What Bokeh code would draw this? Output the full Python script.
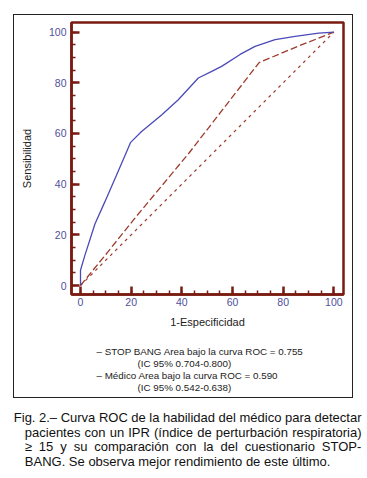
from bokeh.plotting import figure
from bokeh.models import Range1d, FixedTicker, Title
from bokeh.core.properties import value
from bokeh.embed import file_html
from bokeh.resources import INLINE

# ---- data ----
stop_fpr = [0, 0, 1.7, 5.7, 9.6, 14.2, 18.2, 19.8, 24, 32, 38.6, 46.5, 51.8, 55.7, 63, 68.9, 76.8, 84.7, 94, 100]
stop_sens = [0, 6, 11.8, 24.3, 33, 43.5, 52.8, 56.5, 60.7, 67.3, 73.3, 81.9, 84.5, 86.5, 91.2, 94.4, 97, 98.3, 99.6, 100]
medico_fpr = [0, 11, 21, 43, 70.5, 86, 100]
medico_sens = [0, 13.5, 26, 52.5, 88, 94.5, 100]
diag_x = [0, 100]
diag_y = [0, 100]
major_ticks = [0, 20, 40, 60, 80, 100]
minor_ticks = list(range(0, 101, 5))

legend_lines = [
    "– STOP BANG Area bajo la curva ROC = 0.755",
    "(IC 95% 0.704-0.800)",
    "– Médico Area bajo la curva ROC = 0.590",
    "(IC 95% 0.542-0.638)",
]
caption_lines = [
    "Fig. 2.– Curva ROC de la habilidad del médico para detectar",
    "pacientes con un IPR (índice de perturbación respiratoria)",
    "≥ 15 y su comparación con la del cuestionario STOP-",
    "BANG. Se observa mejor rendimiento de este último.",
]

FRAME = "#7a1b12"
BLUE = "#4a4ab8"
BROWN = "#9c3b2b"
TICKLAB = "#50509c"
FONT = "Liberation Sans"

# ---------------- chart (inside the outer box) ----------------
WA, HA = 340, 384
p = figure(width=WA, height=HA, output_backend="svg", toolbar_location=None,
           x_range=Range1d(-3.55, 103.8), y_range=Range1d(-3.55, 103.8),
           min_border_left=57, min_border_right=11,
           min_border_top=7, min_border_bottom=105,
           background_fill_color="white", border_fill_color="white",
           margin=(14, 0, 0, 13),
           styles={"border": "1px solid #222222"})
p.title = None
p.xgrid.visible = False
p.ygrid.visible = False
p.outline_line_color = FRAME
p.outline_line_width = 2.5

for ax in (p.xaxis[0], p.yaxis[0]):
    ax.ticker = FixedTicker(ticks=major_ticks, minor_ticks=minor_ticks)
    ax.axis_line_color = FRAME
    ax.axis_line_width = 2.5
    ax.major_tick_line_color = FRAME
    ax.major_tick_line_width = 2.5
    ax.major_tick_in = 8
    ax.major_tick_out = 0
    ax.minor_tick_line_color = FRAME
    ax.minor_tick_line_width = 1.5
    ax.minor_tick_in = 4
    ax.minor_tick_out = 0
    ax.major_label_text_color = TICKLAB
    ax.major_label_text_font = FONT
    ax.major_label_text_font_size = "10.5px"
    ax.axis_label_text_font = FONT
    ax.axis_label_text_font_size = "11px"
    ax.axis_label_text_font_style = "normal"
    ax.axis_label_text_color = "#222222"

p.xaxis.axis_label = "1-Especificidad"
p.yaxis.axis_label = "Sensibilidad"
p.xaxis.major_label_standoff = 3
p.xaxis.axis_label_standoff = 7
p.yaxis.major_label_standoff = 5
p.yaxis.axis_label_standoff = 13

p.line(diag_x, diag_y, line_color=BROWN, line_width=1.2, line_dash="3 4")
p.line(medico_fpr, medico_sens, line_color=BROWN, line_width=1.3, line_dash="7 3")
p.line(stop_fpr, stop_sens, line_color=BLUE, line_width=1.3)

# spacer between axis label and legend text
p.add_layout(Title(text=" ", text_font_size="1px", standoff=11.0), "below")
offsets = [25, 66, 25, 66]
for t, off in zip(legend_lines, offsets):
    p.add_layout(Title(text=t, align="left", offset=off, standoff=-0.9,
                       text_font=FONT, text_font_size="9.8px",
                       text_font_style="normal", text_color="#222222"), "below")

# ---------------- caption (justified) ----------------
AW = {" ": 278, "a": 556, "b": 556, "c": 500, "d": 556, "e": 556, "f": 278, "g": 556,
      "h": 556, "i": 222, "j": 222, "k": 500, "l": 222, "m": 833, "n": 556, "o": 556,
      "p": 556, "q": 556, "r": 333, "s": 500, "t": 278, "u": 556, "v": 500, "w": 722,
      "x": 500, "y": 500, "z": 500, "A": 667, "B": 667, "C": 722, "D": 722, "E": 667,
      "F": 611, "G": 778, "H": 722, "I": 278, "N": 722, "O": 778, "P": 667, "R": 722,
      "S": 667, "T": 611, ".": 278, ",": 278, "-": 333, "–": 556, "(": 333, ")": 333,
      "≥": 549, "é": 556, "í": 278, "ó": 556, "ú": 556, "á": 556}
for d in "0123456789":
    AW[d] = 556

CAP_SIZE = 13
def wwidth(w):
    return sum(AW.get(ch, 556) for ch in w) * CAP_SIZE / 1000.0

WB, HB = 365, 74
q = figure(width=WB, height=HB, output_backend="svg", toolbar_location=None,
           x_range=Range1d(0, WB), y_range=Range1d(HB, 0),
           x_axis_location=None, y_axis_location=None,
           min_border=0, outline_line_color=None,
           background_fill_color="white", border_fill_color="white")
q.title = None
q.xgrid.visible = False
q.ygrid.visible = False

line_x0 = [13.3, 24.3, 24.3, 24.3]
line_x1 = [361, 361, 361, None]
line_y = [18.5, 33.5, 48.3, 63.2]
xs, ys, ts = [], [], []
for line, x0, x1, y in zip(caption_lines, line_x0, line_x1, line_y):
    words = line.split(" ")
    widths = [wwidth(w) for w in words]
    if x1 is None:
        gap = AW[" "] * CAP_SIZE / 1000.0
    else:
        gap = (x1 - x0 - sum(widths)) / (len(words) - 1)
    x = x0
    for w, wd in zip(words, widths):
        xs.append(x); ys.append(y); ts.append(w)
        x += wd + gap
q.text(x=xs, y=ys, text=ts, text_font_size=f"{CAP_SIZE}px", text_color="#111111",
       text_baseline="middle", text_align="left", text_font=value(FONT))

open("out.html", "w").write(file_html([p, q], INLINE))
